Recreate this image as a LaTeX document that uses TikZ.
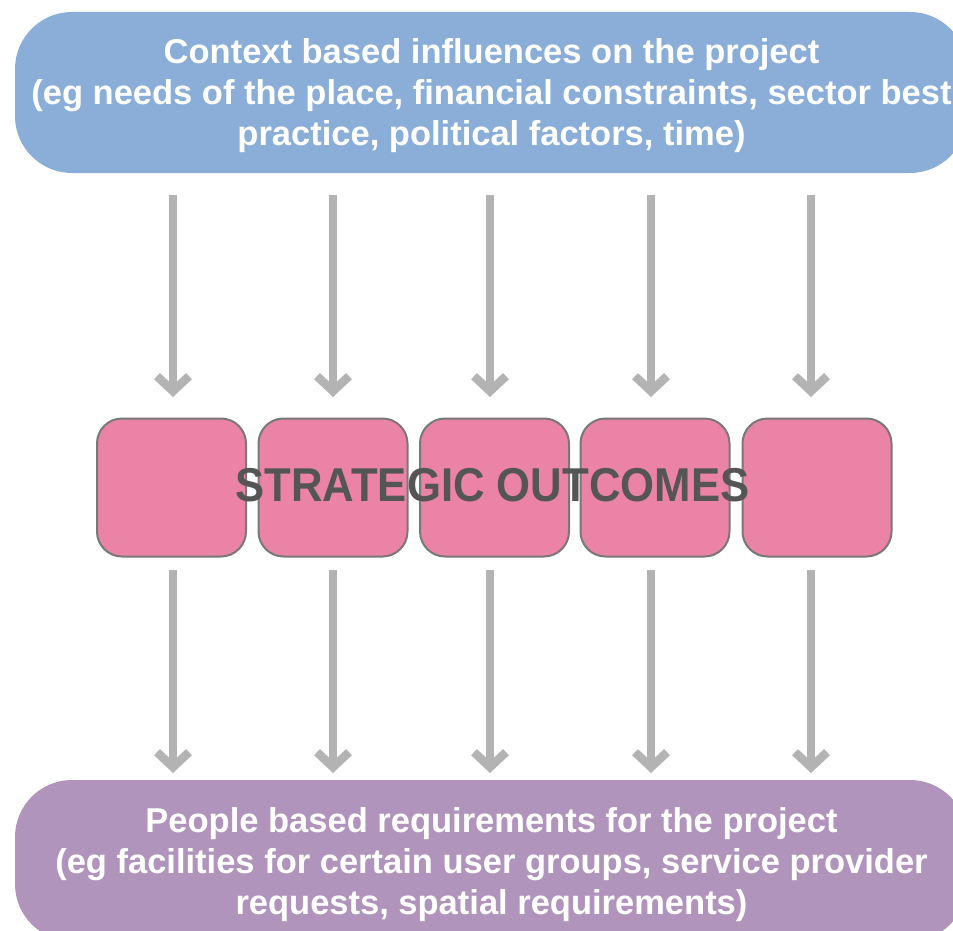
\documentclass[tikz,border=0pt]{standalone}
\usepackage{fontspec}
\setmainfont{Liberation Sans}
\newfontfamily\narrowfont[FakeStretch=0.92]{Liberation Sans}
\usetikzlibrary{arrows.meta}
\definecolor{topblue}{HTML}{8AAED8}
\definecolor{botpurple}{HTML}{B094BC}
\definecolor{pinkfill}{HTML}{EA83A5}
\definecolor{pinkedge}{HTML}{787878}
\definecolor{arrowgray}{HTML}{B3B3B3}
\definecolor{labelgray}{HTML}{555555}
\tikzset{
  bigbox/.style={rounded corners=57pt, minimum width=952pt, minimum height=161pt, inner sep=0pt},
  boxtext/.style={text=white, align=center, inner sep=0pt, font=\fontsize{34.5}{41}\selectfont\bfseries},
  pinkbox/.style={draw=pinkedge, line width=2pt, fill=pinkfill, rounded corners=25pt,
    minimum width=149pt, minimum height=138pt, inner sep=0pt},
  flowarrow/.style={draw=arrowgray, line width=8.5pt, -{Straight Barb[length=15pt,width=32pt]}},
  centrelabel/.style={text=labelgray, inner sep=0pt, font=\narrowfont\fontsize{47.5}{50}\selectfont\bfseries}
}
\begin{document}
\begin{tikzpicture}[x=1pt,y=-1pt]
\useasboundingbox (0,0) rectangle (953,931);
\clip (0,0) rectangle (953,931);
\fill[white] (0,0) rectangle (953,931);
\node[bigbox, fill=topblue] (ctx) at (491,92.5) {};
\node[boxtext] (ctxt) at (491.5,96) {Context based influences on the project\\(eg needs of the place, financial constraints, sector best\\practice, political factors, time)};
\node[bigbox, fill=botpurple] (ppl) at (491,860.5) {};
\node[boxtext] (pplt) at (491.5,864.5) {People based requirements for the project\\(eg facilities for certain user groups, service provider\\requests, spatial requirements)};
\node[pinkbox] (s1) at (171.5,487.5) {};
\node[pinkbox] (s2) at (333,487.5) {};
\node[pinkbox] (s3) at (494.5,487.5) {};
\node[pinkbox] (s4) at (655,487.5) {};
\node[pinkbox] (s5) at (817,487.5) {};
\node[centrelabel] (so) at (492.5,485) {STRATEGIC OUTCOMES};
\foreach \i/\x in {1/173,2/333,3/490,4/651,5/811}{
  \coordinate (ta\i) at (\x,195);
  \coordinate (ha\i) at (\x,397);
  \coordinate (tb\i) at (\x,570);
  \coordinate (hb\i) at (\x,773);
  \draw[flowarrow] (ta\i) -- (ha\i);
  \draw[flowarrow] (tb\i) -- (hb\i);
}
\end{tikzpicture}
\end{document}
